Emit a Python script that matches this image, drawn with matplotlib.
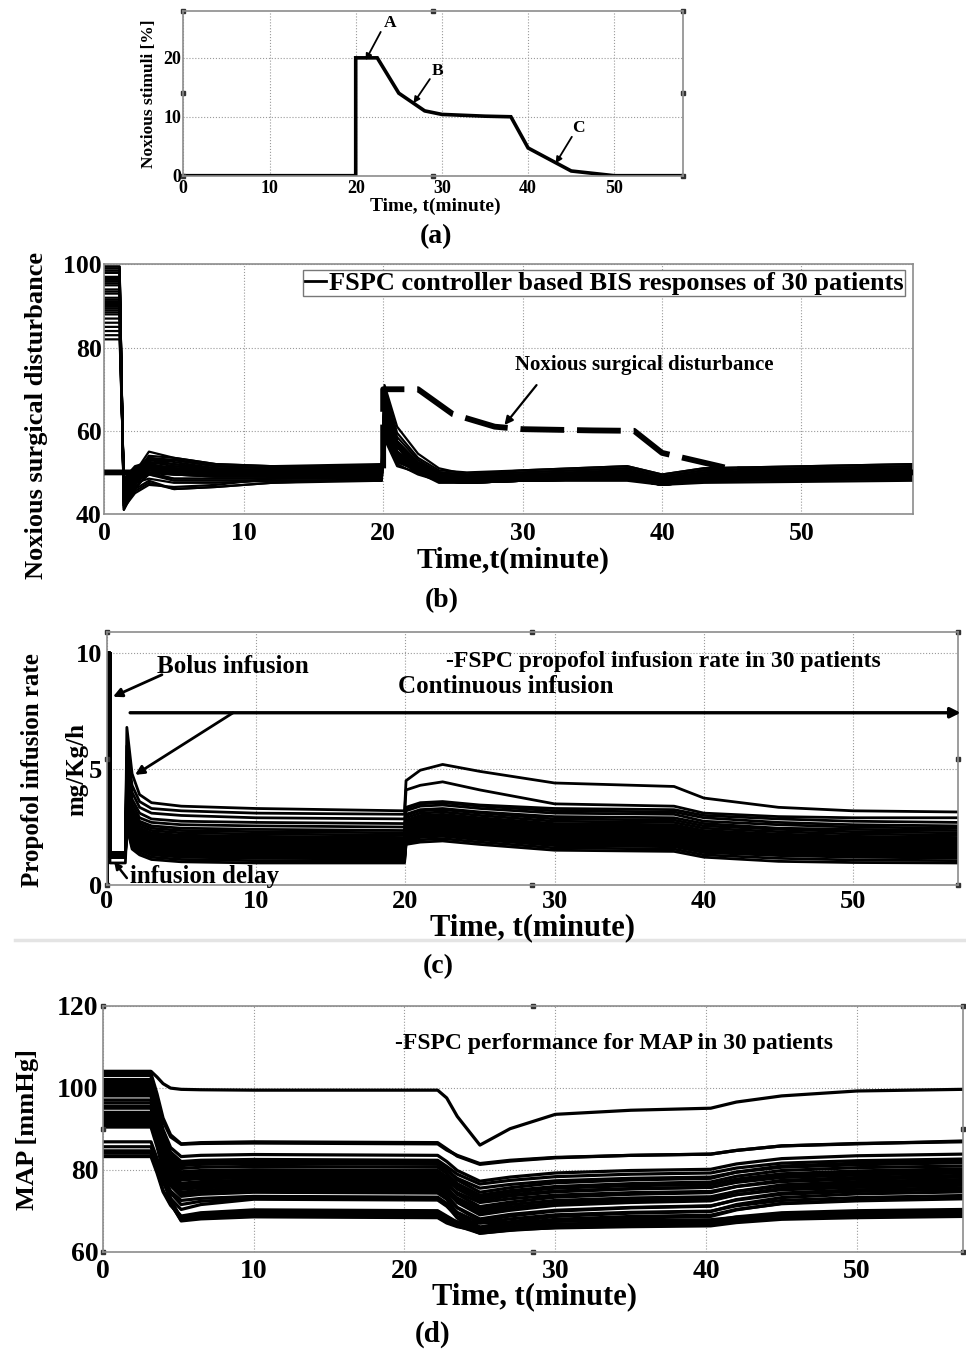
import numpy as np
import matplotlib
matplotlib.use("Agg")
import matplotlib.pyplot as plt
from matplotlib.lines import Line2D

plt.rcParams['font.family'] = ['Liberation Serif', 'DejaVu Serif']
plt.rcParams['font.weight'] = 'bold'

# ---------------- (a) noxious stimulus profile ----------------
stim_t = [0, 20, 20, 22.5, 25, 28, 30, 35, 38, 40, 45, 50, 58]
stim_pct = [0, 0, 20, 20, 14, 11, 10.4, 10.1, 10, 4.7, 0.8, 0, 0]

# ---------------- (b) BIS responses, 30 patients ----------------
bis_target = 50
bis_t = [0, 1.1, 1.4, 2.2, 3.2, 5, 8, 12, 19.9, 20.1, 21, 22.5, 24, 26, 30, 37.5, 40, 43, 58]
# first column: awake BIS, held until the induction starts
bis_rows = [
    [99.5, 41.0, 47.0, 52.0, 53.0, 51.5, 51.0, 51.5, 71.0, 61.0, 54.5, 51.0, 49.5, 50.0, 51.0, 49.0, 50.5, 51.5],
    [99.0, 42.0, 50.0, 55.0, 53.5, 52.0, 51.5, 52.0, 70.0, 59.5, 53.5, 50.5, 50.0, 50.5, 51.5, 49.5, 51.0, 52.0],
    [98.5, 43.0, 48.0, 51.0, 51.5, 50.5, 50.0, 50.0, 68.0, 57.5, 52.0, 49.5, 48.5, 49.0, 49.5, 48.0, 49.0, 50.0],
    [98.0, 44.5, 49.0, 52.5, 52.0, 51.0, 50.5, 50.5, 67.0, 57.5, 52.5, 50.0, 49.0, 49.5, 50.0, 48.5, 49.5, 50.5],
    [97.0, 41.5, 45.0, 47.0, 46.5, 47.0, 48.5, 49.5, 66.0, 55.0, 50.5, 48.5, 48.0, 48.5, 49.0, 47.5, 48.5, 49.5],
    [96.0, 42.5, 46.0, 48.0, 46.0, 46.5, 47.5, 48.5, 65.0, 54.0, 50.0, 48.0, 47.5, 48.0, 48.5, 47.0, 48.0, 49.0],
    [95.0, 45.0, 50.5, 53.5, 52.5, 51.0, 50.5, 51.0, 64.0, 56.0, 52.0, 49.5, 49.0, 49.5, 50.5, 48.5, 50.0, 51.0],
    [93.0, 46.0, 51.0, 53.0, 52.0, 50.5, 50.0, 50.0, 63.0, 55.0, 51.5, 49.0, 48.5, 49.0, 49.5, 48.0, 49.0, 50.0],
    [91.0, 43.5, 47.5, 50.0, 49.5, 49.0, 49.0, 49.0, 62.5, 54.5, 51.0, 48.5, 48.0, 48.5, 49.0, 47.5, 48.5, 49.5],
    [90.0, 44.0, 48.5, 51.5, 50.5, 49.5, 49.5, 49.5, 62.0, 55.0, 51.5, 49.0, 48.5, 49.0, 49.5, 48.0, 49.0, 49.5],
    [89.0, 47.0, 50.0, 51.0, 50.0, 49.5, 49.0, 49.0, 61.0, 53.5, 50.5, 48.5, 48.0, 48.5, 49.0, 47.5, 48.5, 49.0],
    [88.0, 46.5, 49.0, 50.5, 49.5, 49.0, 49.0, 48.5, 60.5, 53.0, 50.0, 48.0, 47.5, 48.0, 48.5, 47.0, 48.0, 48.5],
    [83.0, 48.0, 51.0, 52.0, 51.0, 50.0, 50.0, 50.5, 60.0, 54.0, 51.0, 49.0, 48.5, 49.0, 50.0, 48.0, 49.5, 50.5],
    [82.0, 48.5, 50.5, 51.5, 50.5, 50.0, 49.5, 50.0, 59.0, 52.5, 50.5, 48.5, 48.0, 48.5, 49.5, 47.5, 49.0, 50.0],
    [99.5, 42.0, 48.0, 53.0, 53.0, 51.5, 51.0, 51.0, 69.0, 58.5, 53.0, 50.0, 49.0, 49.5, 50.5, 48.5, 50.0, 51.0],
    [98.0, 43.0, 46.5, 49.5, 48.5, 48.5, 48.5, 48.5, 66.5, 56.0, 51.0, 48.5, 47.5, 48.0, 48.5, 47.0, 48.0, 48.5],
    [97.0, 44.0, 49.5, 53.5, 53.0, 51.5, 51.0, 51.5, 65.5, 56.5, 52.0, 50.0, 49.5, 50.0, 51.0, 49.0, 50.5, 51.5],
    [95.5, 45.5, 48.0, 49.5, 48.0, 48.0, 48.0, 48.0, 64.5, 54.5, 50.5, 48.0, 47.5, 48.0, 48.0, 47.0, 47.5, 48.0],
    [93.5, 42.0, 45.5, 47.5, 46.0, 46.5, 47.5, 48.0, 63.5, 53.5, 50.0, 47.5, 47.5, 48.0, 48.5, 47.0, 48.0, 48.5],
    [91.5, 44.5, 49.0, 51.5, 51.0, 50.0, 49.5, 49.5, 62.5, 54.5, 51.0, 48.5, 48.0, 48.5, 49.0, 47.5, 48.5, 49.5],
    [90.5, 46.0, 49.5, 51.0, 50.0, 49.5, 49.5, 49.5, 61.5, 53.5, 50.5, 48.5, 48.0, 48.5, 49.5, 48.0, 49.0, 49.5],
    [89.5, 47.5, 50.5, 52.0, 51.0, 50.5, 50.5, 50.5, 60.5, 53.5, 51.0, 49.0, 48.5, 49.0, 50.0, 48.5, 49.5, 50.5],
    [88.5, 45.0, 47.5, 48.5, 47.5, 47.5, 48.0, 48.0, 59.5, 52.0, 49.5, 48.0, 47.5, 48.0, 48.5, 47.0, 48.0, 48.5],
    [86.0, 48.5, 51.5, 52.5, 51.5, 50.5, 50.5, 51.0, 58.5, 52.5, 51.0, 49.5, 49.0, 49.5, 50.5, 48.5, 50.0, 51.0],
    [85.0, 47.0, 50.0, 51.0, 50.0, 49.5, 49.5, 49.5, 58.0, 51.5, 50.0, 48.5, 48.0, 48.5, 49.0, 47.5, 48.5, 49.5],
    [94.0, 43.0, 47.0, 50.5, 50.0, 49.5, 49.5, 50.0, 67.5, 57.0, 51.5, 49.0, 48.5, 49.0, 50.0, 48.0, 49.0, 50.0],
    [96.5, 41.0, 46.0, 50.0, 49.5, 49.0, 49.0, 49.0, 68.5, 57.5, 52.0, 49.0, 48.0, 48.5, 49.0, 47.5, 48.5, 49.0],
    [92.0, 44.0, 49.5, 54.0, 53.5, 52.0, 51.5, 51.5, 64.0, 56.0, 52.0, 50.0, 49.5, 50.5, 51.5, 49.5, 51.0, 52.0],
    [87.0, 46.0, 48.5, 50.0, 48.5, 48.5, 48.5, 48.5, 61.0, 53.0, 50.0, 48.0, 47.5, 48.0, 48.5, 47.0, 48.0, 48.5],
    [84.0, 48.0, 50.5, 51.5, 50.5, 50.0, 50.0, 50.0, 59.5, 52.5, 50.5, 48.5, 48.0, 48.5, 49.5, 48.0, 49.0, 50.0],
]

# ---------------- (c) propofol infusion rate ----------------
bolus_rate = 10
prop_t = [0, 0, 0.22, 0.22, 1.25, 1.35, 1.7, 2.2, 3, 5, 10, 19.95, 20.05, 21, 22.5, 25, 30, 38, 40, 45, 50, 57]
# first column: rate during the infusion delay, second: first controller peak
prop_rows = [
    [1.40, 6.80, 4.80, 3.90, 3.55, 3.40, 3.30, 3.20, 4.50, 4.95, 5.20, 4.90, 4.40, 4.25, 3.75, 3.35, 3.20, 3.15],
    [1.35, 6.00, 4.30, 3.60, 3.30, 3.20, 3.10, 3.05, 4.10, 4.30, 4.45, 4.10, 3.50, 3.40, 3.10, 2.95, 2.90, 2.90],
    [1.30, 5.50, 4.00, 3.35, 3.10, 3.00, 2.90, 2.85, 3.35, 3.55, 3.60, 3.45, 3.30, 3.25, 3.00, 2.85, 2.75, 2.70],
    [1.40, 5.20, 3.70, 3.10, 2.85, 2.75, 2.70, 2.65, 3.30, 3.50, 3.55, 3.40, 3.20, 3.15, 2.90, 2.70, 2.60, 2.55],
    [1.25, 5.00, 3.50, 2.90, 2.70, 2.60, 2.55, 2.50, 3.20, 3.40, 3.45, 3.30, 3.10, 3.05, 2.75, 2.60, 2.50, 2.45],
    [1.30, 4.80, 3.30, 2.75, 2.55, 2.45, 2.40, 2.35, 3.05, 3.25, 3.30, 3.15, 2.95, 2.90, 2.65, 2.45, 2.40, 2.35],
    [1.35, 4.60, 3.15, 2.65, 2.45, 2.35, 2.30, 2.25, 3.00, 3.20, 3.25, 3.10, 2.85, 2.80, 2.55, 2.40, 2.30, 2.25],
    [1.20, 4.50, 3.05, 2.55, 2.35, 2.25, 2.20, 2.15, 2.90, 3.10, 3.15, 3.00, 2.75, 2.70, 2.45, 2.30, 2.20, 2.15],
    [1.30, 4.40, 2.95, 2.45, 2.25, 2.15, 2.10, 2.05, 2.80, 3.00, 3.05, 2.90, 2.65, 2.60, 2.35, 2.20, 2.10, 2.05],
    [1.25, 4.30, 2.90, 2.40, 2.20, 2.10, 2.05, 2.00, 2.75, 2.95, 3.00, 2.85, 2.60, 2.55, 2.30, 2.15, 2.05, 2.00],
    [1.40, 4.20, 2.80, 2.35, 2.15, 2.05, 2.00, 1.95, 2.70, 2.90, 2.95, 2.80, 2.55, 2.50, 2.25, 2.10, 2.00, 1.95],
    [1.20, 4.10, 2.75, 2.30, 2.10, 2.00, 1.95, 1.90, 2.65, 2.85, 2.90, 2.75, 2.50, 2.45, 2.20, 2.05, 1.95, 1.90],
    [1.30, 4.00, 2.70, 2.25, 2.05, 1.95, 1.90, 1.85, 2.60, 2.80, 2.85, 2.70, 2.45, 2.40, 2.15, 2.00, 1.90, 1.85],
    [1.35, 3.90, 2.60, 2.20, 2.00, 1.90, 1.85, 1.80, 2.55, 2.75, 2.80, 2.65, 2.40, 2.35, 2.10, 1.95, 1.85, 1.80],
    [1.25, 3.80, 2.55, 2.15, 1.95, 1.85, 1.80, 1.75, 2.50, 2.70, 2.75, 2.60, 2.35, 2.30, 2.05, 1.90, 1.80, 1.75],
    [1.30, 3.70, 2.50, 2.10, 1.90, 1.80, 1.75, 1.70, 2.45, 2.65, 2.70, 2.55, 2.30, 2.25, 2.00, 1.85, 1.75, 1.70],
    [1.20, 3.60, 2.45, 2.05, 1.85, 1.75, 1.70, 1.65, 2.40, 2.60, 2.65, 2.50, 2.25, 2.20, 1.95, 1.80, 1.70, 1.65],
    [1.35, 3.50, 2.35, 2.00, 1.80, 1.70, 1.65, 1.60, 2.35, 2.55, 2.60, 2.45, 2.20, 2.15, 1.90, 1.75, 1.65, 1.60],
    [1.25, 3.40, 2.30, 1.95, 1.75, 1.65, 1.60, 1.55, 2.30, 2.50, 2.55, 2.40, 2.15, 2.10, 1.85, 1.70, 1.60, 1.55],
    [1.30, 3.30, 2.25, 1.90, 1.70, 1.60, 1.55, 1.50, 2.25, 2.45, 2.50, 2.35, 2.10, 2.05, 1.80, 1.65, 1.55, 1.50],
    [1.20, 3.20, 2.15, 1.85, 1.65, 1.55, 1.50, 1.45, 2.20, 2.40, 2.45, 2.30, 2.05, 2.00, 1.75, 1.60, 1.50, 1.45],
    [1.40, 3.10, 2.10, 1.80, 1.60, 1.50, 1.45, 1.40, 2.15, 2.35, 2.40, 2.25, 2.00, 1.95, 1.70, 1.55, 1.45, 1.40],
    [1.25, 3.00, 2.05, 1.75, 1.55, 1.45, 1.40, 1.35, 2.10, 2.30, 2.35, 2.20, 1.95, 1.90, 1.65, 1.50, 1.40, 1.35],
    [1.30, 2.90, 2.00, 1.70, 1.50, 1.40, 1.35, 1.30, 2.05, 2.25, 2.30, 2.15, 1.90, 1.85, 1.60, 1.45, 1.35, 1.30],
    [1.20, 2.80, 1.95, 1.65, 1.45, 1.35, 1.30, 1.28, 2.00, 2.20, 2.25, 2.10, 1.85, 1.80, 1.55, 1.40, 1.32, 1.28],
    [1.35, 2.75, 1.90, 1.60, 1.40, 1.30, 1.25, 1.22, 1.95, 2.15, 2.20, 2.05, 1.80, 1.75, 1.50, 1.35, 1.28, 1.22],
    [1.25, 2.70, 1.80, 1.55, 1.35, 1.25, 1.20, 1.18, 1.90, 2.10, 2.15, 2.00, 1.75, 1.70, 1.45, 1.30, 1.24, 1.20],
    [1.30, 2.60, 1.75, 1.50, 1.30, 1.20, 1.15, 1.12, 1.85, 2.05, 2.10, 1.95, 1.70, 1.65, 1.40, 1.27, 1.20, 1.16],
    [1.20, 2.55, 1.65, 1.40, 1.20, 1.10, 1.05, 1.02, 1.80, 1.95, 2.00, 1.85, 1.60, 1.55, 1.30, 1.15, 1.08, 1.05],
    [0.95, 2.50, 1.55, 1.30, 1.10, 1.00, 0.95, 0.95, 1.75, 1.85, 1.90, 1.75, 1.50, 1.45, 1.20, 1.02, 0.97, 0.95],
]

# ---------------- (d) mean arterial pressure ----------------
map_t = [0, 3.2, 3.6, 4.0, 4.5, 5.2, 6.5, 10, 22.2, 22.8, 23.5, 25, 27, 30, 35, 40.3, 42, 45, 50, 57]
# first column: pre-induction MAP, held until the drug reaches the patient
map_rows = [
    [104.0, 102.6, 101.0, 99.9, 99.6, 99.5, 99.4, 99.4, 97.5, 93.0, 86.0, 90.0, 93.5, 94.5, 95.0, 96.5, 98.0, 99.2, 99.6],
    [103.5, 98.5, 92.6, 88.5, 86.3, 86.6, 86.8, 86.6, 85.1, 83.3, 81.3, 82.1, 82.9, 83.5, 83.8, 84.7, 85.8, 86.4, 86.8],
    [101.5, 97.0, 91.8, 88.0, 86.2, 86.4, 86.5, 86.3, 84.8, 83.5, 81.5, 82.3, 83.0, 83.5, 83.8, 84.7, 85.8, 86.3, 87.0],
    [101.0, 95.8, 89.8, 85.4, 83.2, 83.5, 83.7, 83.5, 82.0, 79.8, 77.2, 78.2, 79.2, 79.8, 80.1, 81.4, 82.7, 83.4, 83.8],
    [100.5, 95.1, 88.8, 84.3, 82.0, 82.3, 82.5, 82.3, 80.8, 78.9, 76.5, 77.4, 78.3, 78.9, 79.2, 80.4, 81.6, 82.2, 82.6],
    [100.0, 94.6, 88.3, 83.8, 81.5, 81.8, 82.0, 81.8, 80.3, 77.5, 74.5, 75.6, 76.8, 77.5, 77.9, 79.4, 80.9, 81.6, 82.2],
    [99.5, 94.1, 87.8, 83.3, 81.0, 81.3, 81.5, 81.3, 79.8, 77.9, 75.5, 76.4, 77.3, 77.9, 78.2, 79.4, 80.6, 81.2, 81.7],
    [99.0, 93.5, 87.2, 82.6, 80.3, 80.6, 80.8, 80.6, 79.1, 76.6, 73.8, 74.9, 75.9, 76.6, 77.0, 78.4, 79.8, 80.5, 80.9],
    [98.5, 93.0, 86.5, 81.9, 79.5, 79.8, 80.0, 79.8, 78.3, 76.1, 73.5, 74.5, 75.5, 76.1, 76.4, 77.7, 79.0, 79.7, 80.2],
    [98.0, 92.5, 86.0, 81.4, 79.0, 79.3, 79.5, 79.3, 77.8, 75.3, 72.5, 73.6, 74.6, 75.3, 75.7, 77.1, 78.5, 79.2, 79.7],
    [96.3, 91.1, 85.1, 80.7, 78.5, 78.8, 79.0, 78.8, 77.3, 75.4, 73.0, 73.9, 74.8, 75.4, 75.7, 76.9, 78.1, 78.7, 79.2],
    [95.0, 90.0, 84.3, 80.2, 78.0, 78.3, 78.5, 78.3, 76.8, 74.0, 71.0, 72.1, 73.3, 74.0, 74.4, 75.9, 77.4, 78.1, 78.6],
    [94.0, 89.2, 83.6, 79.6, 77.5, 77.8, 78.0, 77.8, 76.3, 74.4, 72.0, 72.9, 73.8, 74.4, 74.7, 75.9, 77.1, 77.7, 78.2],
    [93.5, 88.7, 83.1, 79.1, 76.7, 77.1, 77.5, 77.3, 75.8, 72.7, 69.5, 70.7, 71.9, 72.7, 73.1, 74.7, 76.3, 77.1, 77.6],
    [93.0, 88.2, 82.6, 78.6, 76.2, 76.6, 77.0, 76.8, 75.3, 73.1, 70.5, 71.5, 72.5, 73.1, 73.4, 74.7, 76.0, 76.6, 77.1],
    [92.5, 87.7, 82.1, 78.1, 75.7, 76.1, 76.5, 76.3, 74.8, 72.0, 69.0, 70.1, 71.3, 72.0, 72.4, 73.9, 75.4, 76.1, 76.6],
    [92.0, 87.2, 81.6, 77.6, 75.2, 75.6, 76.0, 75.8, 74.3, 72.4, 70.0, 70.9, 71.8, 72.4, 72.7, 73.9, 75.1, 75.7, 76.2],
    [91.5, 86.7, 81.1, 77.1, 74.5, 75.0, 75.5, 75.3, 73.8, 70.7, 67.5, 68.7, 69.9, 70.7, 71.1, 72.7, 74.3, 75.1, 75.6],
    [91.0, 86.2, 80.6, 76.6, 74.0, 74.5, 75.0, 74.8, 73.3, 70.8, 68.0, 69.1, 70.1, 70.8, 71.2, 72.6, 74.0, 74.7, 75.2],
    [90.4, 85.6, 80.1, 76.1, 73.5, 74.0, 74.5, 74.3, 72.8, 69.4, 66.0, 67.3, 68.6, 69.4, 69.8, 71.5, 73.2, 74.1, 74.6],
    [86.8, 82.8, 78.2, 74.8, 72.5, 73.0, 73.5, 73.3, 71.8, 69.6, 67.0, 68.0, 69.0, 69.6, 69.9, 71.2, 72.5, 73.2, 73.7],
    [85.6, 81.8, 77.4, 74.3, 71.5, 72.3, 73.0, 72.8, 71.3, 68.2, 65.0, 66.2, 67.4, 68.2, 68.6, 70.2, 71.8, 72.6, 73.1],
    [84.6, 81.1, 76.9, 73.0, 70.3, 71.5, 72.8, 72.6, 71.1, 68.6, 65.8, 66.8, 67.9, 68.6, 68.9, 70.3, 71.7, 72.4, 72.9],
    [84.0, 79.9, 75.0, 71.6, 68.7, 69.5, 70.2, 70.0, 68.7, 67.2, 65.2, 66.0, 66.7, 67.2, 67.5, 68.5, 69.5, 70.0, 70.3],
    [83.2, 79.2, 74.6, 71.3, 68.5, 69.3, 70.0, 69.8, 68.5, 66.7, 64.5, 65.3, 66.2, 66.7, 67.0, 68.1, 69.2, 69.7, 70.1],
    [95.5, 87.7, 78.6, 72.1, 68.0, 68.8, 69.5, 69.3, 68.0, 66.8, 65.5, 66.0, 66.5, 66.8, 67.0, 67.9, 68.9, 69.3, 69.6],
    [97.0, 88.6, 78.8, 71.8, 68.0, 68.5, 69.0, 68.8, 67.5, 66.3, 64.5, 65.2, 65.9, 66.3, 66.5, 67.4, 68.3, 68.8, 69.1],
    [99.0, 89.9, 79.3, 71.7, 67.7, 68.2, 68.7, 68.5, 67.2, 66.6, 66.0, 66.2, 66.4, 66.6, 66.8, 67.5, 68.2, 68.5, 68.8],
    [102.0, 92.0, 80.2, 71.9, 67.5, 68.0, 68.5, 68.3, 67.0, 66.1, 65.0, 65.4, 65.8, 66.1, 66.3, 67.1, 67.9, 68.3, 68.6],
    [103.0, 93.0, 81.2, 72.9, 68.0, 68.8, 69.5, 69.3, 68.0, 67.3, 67.0, 67.2, 67.4, 67.6, 67.8, 68.4, 69.0, 69.3, 69.7],
]

W, H = 966, 1355
fig = plt.figure(figsize=(W / 100, H / 100), dpi=100)


def axes_px(left, top, right, bottom):
    return fig.add_axes([left / W, 1 - bottom / H, (right - left) / W, (bottom - top) / H])


def fig_text(x, y, s, size, **kw):
    fig.text(x / W, 1 - y / H, s, fontsize=size, fontweight='bold', ha='center', va='center', **kw)


def style(ax, xlim, ylim, yticks, tsize, xpad, ypad):
    ax.set_xlim(*xlim)
    ax.set_ylim(*ylim)
    ax.set_xticks([0, 10, 20, 30, 40, 50])
    ax.set_yticks(yticks)
    ax.grid(True, color='#9a9a9a', linestyle=':', linewidth=0.8)
    ax.tick_params(length=0, labelsize=tsize)
    ax.tick_params(axis='x', pad=xpad)
    ax.tick_params(axis='y', pad=ypad)
    for sp in ax.spines.values():
        sp.set_color('#8c8c8c')
        sp.set_linewidth(1.2)


def handles(ax):
    # little selection squares left on the axes box
    for fx, fy in [(0, 0), (0.5, 0), (1, 0), (0, 0.5), (1, 0.5), (0, 1), (0.5, 1), (1, 1)]:
        ax.plot(fx, fy, 's', color='#333333', markersize=2.6, transform=ax.transAxes, clip_on=False)


def arrow(ax, head, tail, lw=1.6, ms=12):
    ax.annotate('', xy=head, xytext=tail, annotation_clip=False,
                arrowprops=dict(arrowstyle='-|>', color='k', lw=lw, mutation_scale=ms, shrinkA=0, shrinkB=0))


# ---------------- panel (a) ----------------
ax = axes_px(183.3, 10.7, 683.3, 175.7)
style(ax, (0, 58), (0, 28), [0, 10, 20], 13, 3, 1.5)
ax.plot(stim_t, stim_pct, color='k', lw=2.6, solid_joinstyle='miter')
handles(ax)
for lab, pos, head, tail in [('A', (24.0, 25.9), (21.15, 19.6), (22.9, 24.4)),
                             ('B', (29.5, 17.7), (26.7, 12.3), (28.6, 16.4)),
                             ('C', (45.8, 8.15), (43.2, 2.1), (45.07, 6.6))]:
    ax.text(*pos, lab, fontsize=12.5, fontweight='bold', ha='center', va='center')
    arrow(ax, head, tail, lw=1.3, ms=9)
fig_text(149, 94, 'Noxious stimuli [%]', 12.5, rotation=90)
fig_text(435, 206, 'Time, t(minute)', 14)
fig_text(436, 237, '(a)', 20)

# ---------------- panel (b) ----------------
ax = axes_px(104.3, 264.5, 913, 514)
style(ax, (0, 58), (40, 100), [40, 60, 80, 100], 18.5, 6, 2)
for row in bis_rows:
    ax.plot(bis_t, [row[0]] + list(row), color='k', lw=1.6)
dist = np.array(stim_pct) + bis_target
ax.plot(stim_t, dist, color='k', lw=4.2, dashes=(7.5, 2.2), zorder=5)
ax.text(38.75, 75.8, 'Noxious surgical disturbance', fontsize=15, fontweight='bold', ha='center', va='center')
arrow(ax, (28.7, 61.4), (31.0, 71.0), lw=1.6, ms=12)
leg = ax.legend([Line2D([], [], color='k', lw=2)],
                ['FSPC controller based BIS responses of 30 patients'],
                loc='upper right', bbox_to_anchor=(0.99, 0.978), borderaxespad=0,
                prop={'size': 19, 'weight': 'bold'}, handlelength=0.8, handletextpad=0.12,
                borderpad=0.05, fancybox=False, framealpha=1, edgecolor='#777777')
leg.get_frame().set_linewidth(1.0)
fig_text(37, 415, 'Noxious surgical disturbance', 19, rotation=90)
fig_text(513, 560, 'Time,t(minute)', 21.5)
fig_text(442, 601, '(b)', 20)

# ---------------- panel (c) ----------------
ax = axes_px(106.7, 632.3, 957.7, 885)
style(ax, (0, 57), (0, 10.9), [0, 5, 10], 19, 3.5, 3)
for row in prop_rows:
    y = [0, bolus_rate, bolus_rate, row[0]] + list(row)
    ax.plot(prop_t, y, color='k', lw=2.0)
handles(ax)
ax.text(3.37, 9.42, 'Bolus infusion', fontsize=18, fontweight='bold', ha='left', va='center')
ax.text(22.75, 9.64, '-FSPC propofol infusion rate in 30 patients', fontsize=17, fontweight='bold',
        ha='left', va='center')
ax.text(19.5, 8.56, 'Continuous infusion', fontsize=18, fontweight='bold', ha='left', va='center')
ax.text(1.56, 0.35, 'infusion delay', fontsize=18, fontweight='bold', ha='left', va='center')
arrow(ax, (0.42, 8.12), (3.7, 9.07), lw=2.0, ms=13)
arrow(ax, (1.9, 4.75), (8.47, 7.43), lw=2.0, ms=13)
arrow(ax, (57.2, 7.43), (1.57, 7.43), lw=2.4, ms=15)
arrow(ax, (0.5, 1.0), (1.35, 0.3), lw=1.8, ms=10)
fig_text(33, 770, 'Propofol infusion rate', 18, rotation=90)
fig_text(77, 770, 'mg/Kg/h', 18, rotation=90)
fig_text(533, 928, 'Time, t(minute)', 22)
fig.add_artist(Line2D([15 / W, 1], [1 - 940 / H] * 2, color='#e4e4e4', lw=2.5))
fig_text(438, 967, '(c)', 20)

# ---------------- panel (d) ----------------
ax = axes_px(102.7, 1005.7, 962.7, 1251.7)
style(ax, (0, 57), (60, 120), [60, 80, 100, 120], 20, 5.5, 3)
for row in map_rows:
    ax.plot(map_t, [row[0]] + list(row), color='k', lw=2.3)
handles(ax)
ax.text(33.9, 110.7, '-FSPC performance for MAP in 30 patients', fontsize=17, fontweight='bold',
        ha='center', va='center')
fig_text(28, 1130, 'MAP [mmHg]', 19, rotation=90)
fig_text(534, 1297, 'Time, t(minute)', 22)
fig_text(433, 1334, '(d)', 21)

fig.savefig('out.png', dpi=100)
